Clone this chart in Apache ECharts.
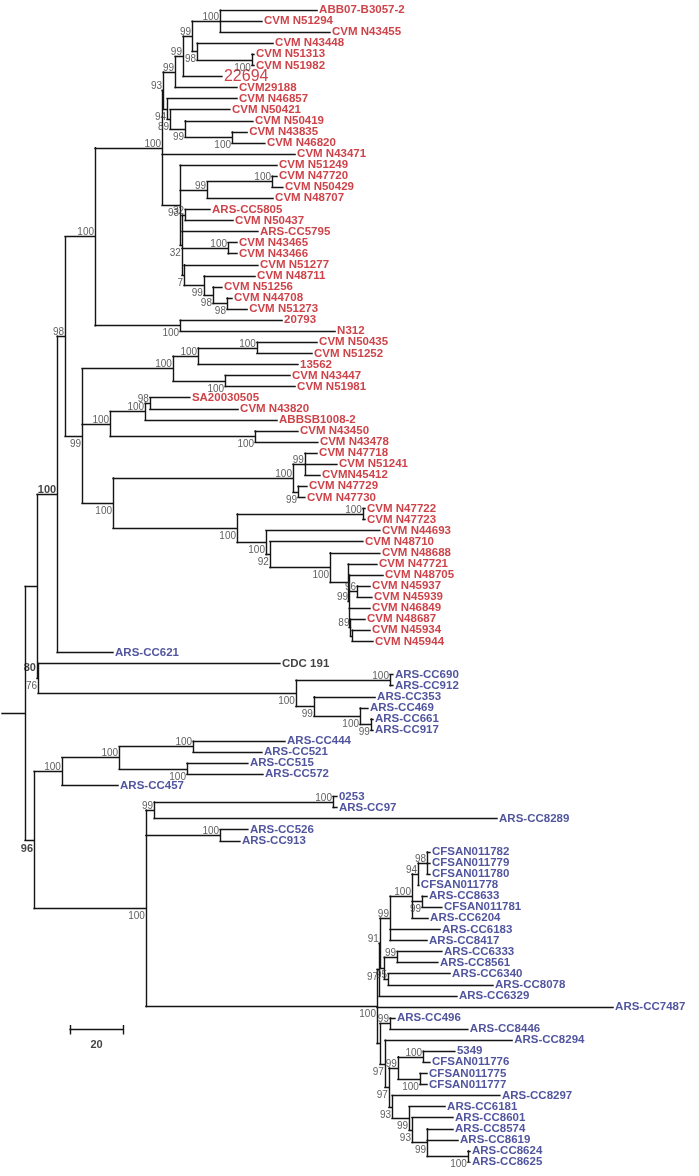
<!DOCTYPE html>
<html><head><meta charset="utf-8">
<script src="https://cdn.jsdelivr.net/npm/echarts@6/dist/echarts.min.js"></script>
<style>html,body{margin:0;padding:0;background:#fff}#c{width:699px;height:1176px}</style>
</head><body><div id="c"></div>
<script>
// Tree notation: (children)bootstrap@depth  or  leaf@depth ; depth = distance from the root (scale bar = 20)
// bootstrap flags: b = label under the branch, s = bold, e = label at the lower end; [r]/[b]/[k] = text colour group
const cladeB4 = `(CVM N51313@95.1,CVM N51982@95.1)100b@94.3`;
const cladeB1 = `(ABB07-B3057-2@118.9,CVM N51294@98.1,CVM N43455@123.8)100@82.3`;
const cladeB2 = `(${cladeB1},(CVM N43448@102.3,${cladeB4})98b@73.6)99@71.7`;
const cladeB6 = `((${cladeB2},22694@83.0)99@68.3,CVM29188@88.7)99@65.3`;
const cladeC4 = `(CVM N46857@88.7,(CVM N50421@86.0,(CVM N50419@94.7,(CVM N43835@92.5,CVM N46820@99.2)100b@86.8)99b@69.1)89b@63.4)94b@62.3`;
const cladeE2 = `((CVM N47720@103.8,CVM N50429@106.0)100@101.9,CVM N48707@102.3)99@77.4`;
const cladeF3 = `(CVM N48711@95.5,(CVM N51256@83.0,(CVM N44708@86.8,CVM N51273@92.5)98b@84.9)98b@79.6)99b@76.2`;
const cladeD2 = `((ARS-CC5805@78.5,CVM N50437@87.2)32@69.1,ARS-CC5795@96.6,(CVM N43465@88.7,CVM N43466@88.7)100@85.3,(CVM N51277@96.6,${cladeF3})7b@68.7)32b@67.9`;
const cladeT1 = `(((${cladeB6},${cladeC4})93@60.8,CVM N43471@110.6,(CVM N51249@103.8,${cladeE2},${cladeD2})93b@67.2)100@60.4,(20793@105.7,N312@125.7)100b@67.2)100@35.1`;
const cladeG2 = `(((CVM N50435@118.9,CVM N51252@117.0)100@96.2,13562@111.7)100@74.0,(CVM N43447@108.7,CVM N51981@110.6)100b@84.2)100@64.5`;
const cladeJ3 = `(((SA20030505@70.9,CVM N43820@89.1)98@55.8,ABBSB1008-2@103.8)100@54.0,(CVM N43450@111.7,CVM N43478@119.2)100b@95.5)100@40.8`;
const cladeK1 = `((CVM N47718@118.9,CVM N51241@126.4,CVMN45412@120.0)99@114.3,(CVM N47729@115.1,CVM N47730@114.3)99b@111.7)100@109.8`;
const cladeM2 = `(CVM N47721@141.5,(CVM N48705@143.8,(CVM N45937@138.9,CVM N45939@139.6)96@134.0,CVM N46849@138.9,(CVM N48687@137.0,(CVM N45934@138.9,CVM N45944@140.0)@132.1)89@131.5)99@131.0)@130.6`;
const cladeL1 = `((CVM N47722@137.0,CVM N47723@137.0)100@136.2,(CVM N44693@142.6,(CVM N48710@136.2,(CVM N48688@142.6,${cladeM2})100b@123.8)92b@101.1)100b@99.6)100b@88.7`;
const cladeG0 = `(${cladeT1},(${cladeG2},${cladeJ3},(${cladeK1},${cladeL1})100b@41.9)99b@30.2)98[r]@23.8`;
const cladeR = `((ARS-CC690@147.5,ARS-CC912@147.5)100@146.4,(ARS-CC353@140.8,(ARS-CC469@138.1,(ARS-CC661@140.0,ARS-CC917@140.0)99b@139.2)100b@135.1)99b@117.7)100b@110.9`;
const cladeV1 = `(((ARS-CC444@106.8,ARS-CC521@98.1)100@72.1,(ARS-CC515@92.8,ARS-CC572@98.5)100b@69.8)100@44.2,ARS-CC457@43.8)100@22.6`;
const cladeEE = `((((((CFSAN011782@161.5,CFSAN011779@161.5,CFSAN011780@161.5)98@160.4,CFSAN011778@157.3)94@157.0,(ARS-CC8633@160.4,CFSAN011781@166.0)99b@158.5,ARS-CC6204@160.8)100@154.7,ARS-CC6183@165.3,ARS-CC8417@160.4)99@146.4,((ARS-CC6333@166.0,ARS-CC8561@164.5)99@149.1,(ARS-CC6340@169.1,ARS-CC8078@185.3)95@145.7)@144.2)91@142.6,ARS-CC6329@171.7)97b@142.3`;
const cladeY0 = `((ARS-CC496@148.3,ARS-CC8446@175.8)99@146.4,(ARS-CC8294@192.5,(((5349@170.9,CFSAN011776@161.5)100@158.9,(CFSAN011775@160.4,CFSAN011777@160.4)100b@157.7)99@149.4,(ARS-CC8297@187.9,(ARS-CC6181@167.2,(ARS-CC8601@170.2,(ARS-CC8574@170.2,ARS-CC8619@172.1,(ARS-CC8624@176.6,ARS-CC8625@176.6)100b@175.8)99b@160.4)93b@154.7)99b@153.6)93b@147.2)97b@146.0)97b@144.5)@142.6`;
const cladeW = `(((0253@126.4,ARS-CC97@126.4)100@124.9,ARS-CC8289@186.8)99@57.4,(ARS-CC526@92.8,ARS-CC913@89.8)100@82.3,(${cladeEE},ARS-CC7487@230.6,${cladeY0})100b@141.5)100b@54.3`;
const treeText = `(((${cladeG0},ARS-CC621@41.9)100s@20.8,(CDC 191[k]@104.9,${cladeR})76b@13.6)80se@13.2,(${cladeV1},${cladeW})96sb@12.1)@8.7`;
const largeLeaves = ['22694'];
const scaleBarLength = 20;
const scaleBarLabel = '20';

function parse(s){
  let i = 0;
  function node(){
    const n = {children: []};
    if (s[i] === '('){
      i++;
      n.children.push(node());
      while (s[i] === ','){ i++; n.children.push(node()); }
      i++;
    }
    const j = s.indexOf('@', i);
    const txt = s.slice(i, j); i = j + 1;
    const m = /^[0-9.]+/.exec(s.slice(i)); n.depth = +m[0]; i += m[0].length;
    const tag = /\[(\w)\]/.exec(txt); n.tag = tag ? tag[1] : null;
    const clean = txt.replace(/\[\w\]/, '');
    if (n.children.length){ const bm = /^(\d*)([a-z]*)$/.exec(clean); n.boot = bm[1]; n.flags = bm[2]; }
    else n.name = clean;
    return n;
  }
  return node();
}
const root = parse(treeText);
const colors = {r: '#c0141c', b: '#262a85', k: '#111111'};
let leafIdx = 0;
const segs = [], leaves = [], boots = [];
function layout(n, parentDepth, color){
  const c = n.tag || color;
  if (!n.children.length){
    n.y = leafIdx++;
    const big = largeLeaves.includes(n.name);
    leaves.push({value: [n.depth, n.y], name: n.name, label: {color: colors[c], fontWeight: big ? 'normal' : 'bold', fontSize: big ? 16 : 11.5}});
  } else {
    n.children.forEach(ch => layout(ch, n.depth, c));
    const f = n.children[0].y, l = n.children[n.children.length - 1].y;
    n.y = (f + l) / 2;
    segs.push({coords: [[n.depth, f], [n.depth, l]]});
    if (n.boot){
      const below = n.flags.includes('b') && !n.flags.includes('e');
      const bold = n.flags.includes('s');
      boots.push({value: [n.depth, n.flags.includes('e') ? l : n.y], name: n.boot,
        label: {position: below ? [-1, 3] : (n.flags.includes('e') ? [-1, -5] : [-1, 1]), verticalAlign: below ? 'top' : 'bottom',
                fontWeight: bold ? 'bold' : 'normal', color: bold ? '#111' : '#363636', fontSize: bold ? 11 : 10}});
    }
  }
  segs.push({coords: [[parentDepth, n.y], [n.depth, n.y]]});
}
layout(root, 0, 'b');

const PXU = 2.65; // px per distance unit
const xMax = 697 / PXU;
const sbStart = 25.7, sbRow = 92.06;
const scaleSegs = [
  {coords: [[sbStart, sbRow], [sbStart + scaleBarLength, sbRow]]},
  {coords: [[sbStart, sbRow - 0.36], [sbStart, sbRow + 0.36]]},
  {coords: [[sbStart + scaleBarLength, sbRow - 0.36], [sbStart + scaleBarLength, sbRow + 0.36]]}
];
const font = 'Liberation Sans, Arial, Helvetica, sans-serif';
const chart = echarts.init(document.getElementById('c'));
chart.setOption({
  animation: false,
  backgroundColor: '#ffffff',
  grid: {left: 2, top: 10, width: 697, height: 1152},
  xAxis: {type: 'value', min: 0, max: xMax, show: false},
  yAxis: {type: 'value', min: 0, max: leafIdx - 1, inverse: true, show: false},
  series: [
    {type: 'lines', coordinateSystem: 'cartesian2d', polyline: false, silent: true,
     lineStyle: {color: '#151515', width: 1.4, opacity: 1, cap: 'square'}, data: segs.concat(scaleSegs)},
    {type: 'scatter', symbolSize: 0, silent: true, data: leaves,
     label: {show: true, position: 'right', distance: 2, formatter: '{b}', fontFamily: font}},
    {type: 'scatter', symbolSize: 0, silent: true, data: boots,
     label: {show: true, formatter: '{b}', align: 'right', fontFamily: font}},
    {type: 'scatter', symbolSize: 0, silent: true,
     data: [{value: [sbStart + scaleBarLength / 2, sbRow], name: scaleBarLabel}],
     label: {show: true, formatter: '{b}', position: [0, 10], align: 'center', verticalAlign: 'top',
             fontFamily: font, fontSize: 11, fontWeight: 'bold', color: '#111'}}
  ]
});
</script></body></html>
